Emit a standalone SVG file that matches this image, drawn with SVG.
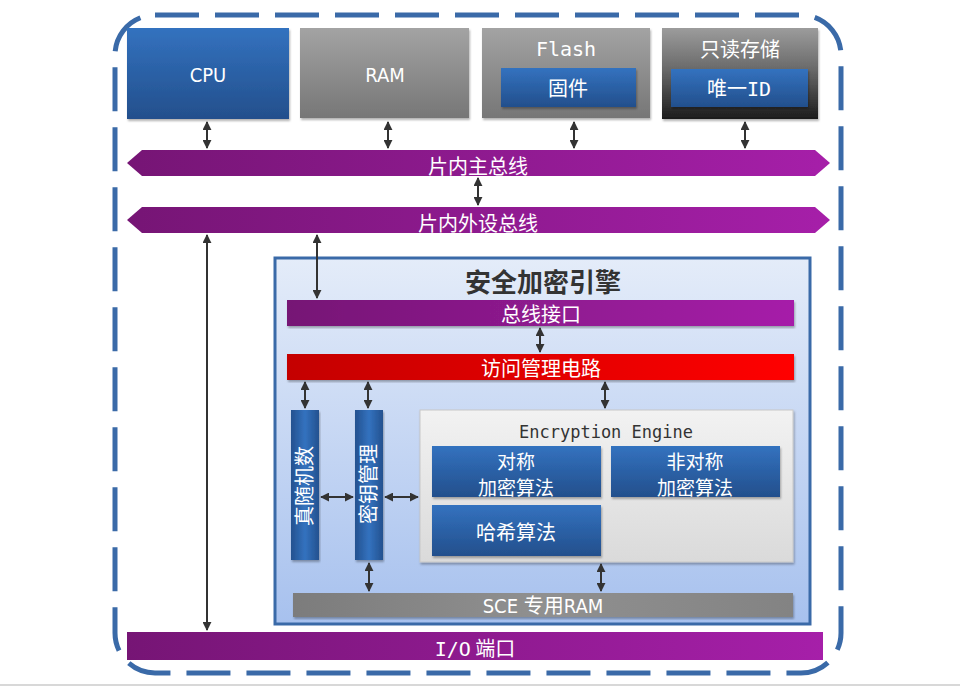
<svg xmlns="http://www.w3.org/2000/svg" width="960" height="687" viewBox="0 0 960 687">
<defs>
<linearGradient id="gBlue" x1="0" y1="0" x2="0" y2="1"><stop offset="0" stop-color="#3372bf"/><stop offset="1" stop-color="#234f8c"/></linearGradient>
<linearGradient id="gGray" x1="0" y1="0" x2="0" y2="1"><stop offset="0" stop-color="#a3a3a3"/><stop offset="1" stop-color="#767676"/></linearGradient>
<linearGradient id="gDark" x1="0" y1="0" x2="0" y2="1"><stop offset="0" stop-color="#9c9c9c"/><stop offset="0.45" stop-color="#6a6a6a"/><stop offset="1" stop-color="#1c1c1c"/></linearGradient>
<linearGradient id="gPurple" x1="0" y1="0" x2="1" y2="0"><stop offset="0" stop-color="#761575"/><stop offset="1" stop-color="#a61fa9"/></linearGradient>
<linearGradient id="gRed" x1="0" y1="0" x2="1" y2="0"><stop offset="0" stop-color="#c40000"/><stop offset="1" stop-color="#ff0000"/></linearGradient>
<linearGradient id="gEngine" x1="0" y1="0" x2="0" y2="1"><stop offset="0" stop-color="#e4ecf9"/><stop offset="1" stop-color="#a7c1ee"/></linearGradient>
<linearGradient id="gEnc" x1="0" y1="0" x2="0" y2="1"><stop offset="0" stop-color="#f2f2f2"/><stop offset="1" stop-color="#dadada"/></linearGradient>
<linearGradient id="gSce" x1="0" y1="0" x2="1" y2="0"><stop offset="0" stop-color="#7c7c7c"/><stop offset="0.5" stop-color="#909090"/><stop offset="1" stop-color="#838383"/></linearGradient>
<linearGradient id="gVBlue" x1="0" y1="0" x2="1" y2="0"><stop offset="0" stop-color="#24518f"/><stop offset="0.5" stop-color="#3372bf"/><stop offset="1" stop-color="#24518f"/></linearGradient>
<marker id="ah" viewBox="0 0 10 10" refX="9" refY="5" markerWidth="4.5" markerHeight="4.5" orient="auto-start-reverse"><path d="M0,0 L10,5 L0,10 z" fill="#333"/></marker>
<filter id="sh" x="-5%" y="-5%" width="110%" height="115%"><feDropShadow dx="1" dy="2" stdDeviation="1.2" flood-color="#000" flood-opacity="0.3"/></filter>
</defs>
<style>
.cn{font-family:"Noto Sans CJK SC","DejaVu Sans",sans-serif;fill:#fff;font-size:20px;text-anchor:middle}
.two{font-size:19px}
.mono{font-family:"DejaVu Sans Mono","Noto Sans CJK SC",monospace}
.cond{font-family:"DejaVu Sans Condensed","Noto Sans CJK SC",sans-serif}
.arr{stroke:#333;stroke-width:2;fill:none;marker-start:url(#ah);marker-end:url(#ah)}
</style>
<rect x="0" y="0" width="960" height="687" fill="#fff"/>
<line x1="0" y1="685" x2="960" y2="685" stroke="#d8d8d8" stroke-width="2"/>
<rect id="outer" x="115" y="15" width="726" height="658" rx="40" ry="40" fill="none" stroke="#3a6aa8" stroke-width="5" stroke-dasharray="44 16"/>

<g id="cpu"><rect x="127" y="28" width="162" height="91" fill="url(#gBlue)" filter="url(#sh)"/><text class="cn cond" x="208" y="82" font-size="18">CPU</text></g>
<g id="ram"><rect x="300" y="28" width="169" height="90" fill="url(#gGray)" filter="url(#sh)"/><text class="cn cond" x="385" y="82" font-size="18">RAM</text></g>
<g id="flash"><rect x="482" y="28" width="168" height="90" fill="url(#gGray)" filter="url(#sh)"/><text class="cn mono" x="566" y="56" font-size="18">Flash</text>
<rect x="501" y="68" width="135" height="39" fill="url(#gBlue)" filter="url(#sh)"/><text class="cn" x="568" y="96">固件</text></g>
<g id="rom"><rect x="662" y="28" width="156" height="91" fill="url(#gDark)" filter="url(#sh)"/><text class="cn" x="740" y="57">只读存储</text>
<rect x="671" y="69" width="137" height="38" fill="url(#gBlue)" filter="url(#sh)"/><text class="cn" x="739" y="96">唯一<tspan class="mono">ID</tspan></text></g>

<g id="mainbus"><path d="M127,163 L142,150 L815,150 L830,163 L815,176 L142,176 Z" fill="url(#gPurple)"/><text class="cn" x="478" y="174">片内主总线</text></g>
<g id="periphbus"><path d="M127,220 L142,207 L815,207 L830,220 L815,233 L142,233 Z" fill="url(#gPurple)"/><text class="cn" x="478" y="231">片内外设总线</text></g>

<g id="engine"><rect x="275" y="258" width="535" height="366" fill="url(#gEngine)" stroke="#3a6aa8" stroke-width="3"/>
<text x="543" y="292" font-family="Noto Sans CJK SC,sans-serif" font-size="26" font-weight="bold" fill="#333" text-anchor="middle">安全加密引擎</text></g>
<g id="businterface"><rect x="287" y="300" width="507" height="26" fill="url(#gPurple)" filter="url(#sh)"/><text class="cn" x="541" y="322" font-size="19">总线接口</text></g>
<g id="access"><rect x="287" y="354" width="507" height="26" fill="url(#gRed)" filter="url(#sh)"/><text class="cn" x="541" y="376">访问管理电路</text></g>
<g id="trng"><rect x="291" y="410" width="28" height="150" fill="url(#gVBlue)" filter="url(#sh)"/><text class="cn" transform="translate(312,486) rotate(-90)">真随机数</text></g>
<g id="keymgmt"><rect x="355" y="410" width="28" height="150" fill="url(#gVBlue)" filter="url(#sh)"/><text class="cn" transform="translate(376,484) rotate(-90)">密钥管理</text></g>
<g id="encengine"><rect x="420" y="410" width="373" height="152" fill="url(#gEnc)" stroke="#c8c8c8" stroke-width="1" filter="url(#sh)"/>
<text class="mono" x="606" y="438" font-size="17" fill="#333" text-anchor="middle">Encryption Engine</text></g>
<g id="sym"><rect x="432" y="446" width="169" height="51" fill="url(#gBlue)" filter="url(#sh)"/><text class="cn two" x="516" y="469">对称</text><text class="cn two" x="516" y="495">加密算法</text></g>
<g id="asym"><rect x="611" y="446" width="169" height="51" fill="url(#gBlue)" filter="url(#sh)"/><text class="cn two" x="695" y="469">非对称</text><text class="cn two" x="695" y="495">加密算法</text></g>
<g id="hash"><rect x="432" y="505" width="169" height="51" fill="url(#gBlue)" filter="url(#sh)"/><text class="cn" x="516" y="540">哈希算法</text></g>
<g id="sceram"><rect x="293" y="593" width="500" height="24" fill="url(#gSce)" filter="url(#sh)"/><text class="cn cond" x="543" y="613" font-size="18">SCE 专用RAM</text></g>
<g id="io"><rect x="127" y="632" width="696" height="28" fill="url(#gPurple)"/><text class="cn" x="475" y="656"><tspan class="mono">I/O</tspan> 端口</text></g>

<g id="connectors">
<line class="arr" x1="207" y1="122" x2="207" y2="148"/>
<line class="arr" x1="388" y1="122" x2="388" y2="148"/>
<line class="arr" x1="574" y1="122" x2="574" y2="148"/>
<line class="arr" x1="745" y1="122" x2="745" y2="148"/>
<line class="arr" x1="478" y1="178" x2="478" y2="205"/>
<line class="arr" x1="207" y1="235" x2="207" y2="630"/>
<line class="arr" x1="317" y1="235" x2="317" y2="298"/>
<line class="arr" x1="540" y1="328" x2="540" y2="352"/>
<line class="arr" x1="305" y1="382" x2="305" y2="408"/>
<line class="arr" x1="368" y1="382" x2="368" y2="408"/>
<line class="arr" x1="605" y1="382" x2="605" y2="408"/>
<line class="arr" x1="321" y1="497" x2="353" y2="497"/>
<line class="arr" x1="385" y1="497" x2="418" y2="497"/>
<line class="arr" x1="369" y1="563" x2="369" y2="591"/>
<line class="arr" x1="601" y1="564" x2="601" y2="591"/>
</g>
</svg>
